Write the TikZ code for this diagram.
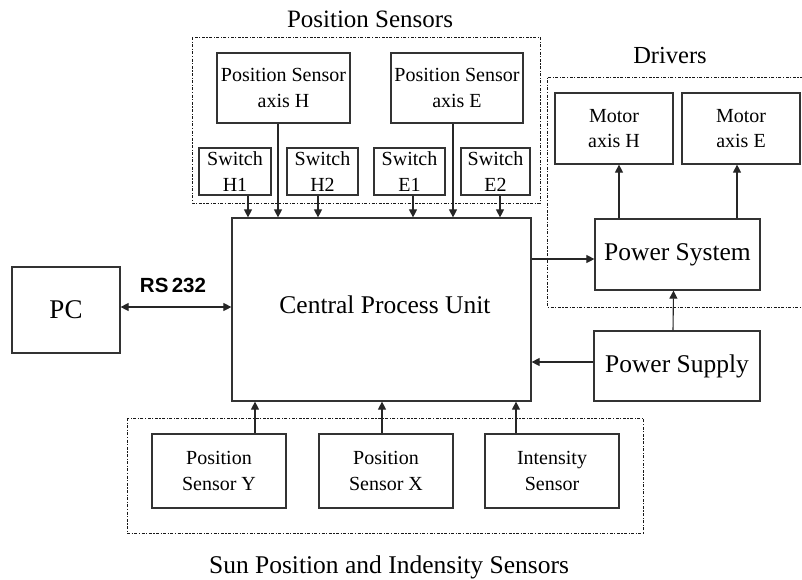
\documentclass[tikz,border=0pt]{standalone}
\usepackage{fontspec}
\setmainfont{Liberation Serif}
\newfontfamily\rsfont{Liberation Sans}
\usetikzlibrary{arrows.meta}
\begin{document}
\begin{tikzpicture}[x=1pt,y=-1pt,
  box/.style={draw=black!80, line width=1.2pt, inner sep=0pt, align=center,
    font=\fontsize{20}{25.5}\selectfont},
  bigbox/.style={box, font=\fontsize{25.5}{29}\selectfont},
  arr/.style={draw=black!85, line width=1.1pt, -{Triangle[length=8pt,width=8pt]}},
  dbl/.style={draw=black!85, line width=1.1pt, {Triangle[length=8pt,width=8pt]}-{Triangle[length=8pt,width=8pt]}},
  grp/.style={draw=black!90, line width=1pt, dash pattern=on 3pt off 1.5pt on 1.2pt off 1.5pt},
  ttl/.style={anchor=base, inner sep=0pt, font=\fontsize{25}{29}\selectfont}]
\useasboundingbox (0,0) rectangle (802,579);

% group frames
\draw[grp] (192,37) rectangle (540,203);
\draw[grp] (127,418) rectangle (643,533);
\draw[grp] (803,77) -| (547,307) -- (803,307);

% titles
\node[ttl] (tps) at (370,27) {Position Sensors};
\node[ttl, font=\fontsize{24.5}{29}\selectfont] (tdr) at (670,63) {Drivers};
\node[ttl, font=\fontsize{25.5}{29}\selectfont] (tsun) at (389,573) {Sun Position and Indensity Sensors};

% nodes
\node[box, minimum width=133, minimum height=70] (psh) at (283.5,88) {Position Sensor\\axis H};
\node[box, minimum width=132, minimum height=70] (pse) at (457,88) {Position Sensor\\axis E};
\node[box, minimum width=72, minimum height=47] (h1) at (235,171.5) {Switch\\H1};
\node[box, minimum width=71, minimum height=47] (h2) at (322.5,171.5) {Switch\\H2};
\node[box, minimum width=71, minimum height=47] (e1) at (409.5,171.5) {Switch\\E1};
\node[box, minimum width=69, minimum height=47] (e2) at (495.5,171.5) {Switch\\E2};

\node[box, minimum width=299, minimum height=183] (cpu) at (381.5,309.5) {};
\node[inner sep=0pt, font=\fontsize{25.5}{29}\selectfont] (cput) at (385,305) {Central Process Unit};

\node[bigbox, minimum width=108, minimum height=86, font=\fontsize{27}{30}\selectfont] (pc) at (66,310) {PC};

\node[box, minimum width=118, minimum height=71] (mh) at (614,128.5) {Motor\\axis H};
\node[box, minimum width=118, minimum height=71] (me) at (741,128.5) {Motor\\axis E};
\node[bigbox, minimum width=165, minimum height=71] (ps) at (677.5,254.5) {Power System};
\node[bigbox, minimum width=166, minimum height=70] (psu) at (677,366) {Power Supply};

\node[box, minimum width=134, minimum height=74] (sy) at (219,471) {Position\\Sensor Y};
\node[box, minimum width=134, minimum height=74] (sx) at (386,471) {Position\\Sensor X};
\node[box, minimum width=134, minimum height=74] (si) at (552,471) {Intensity\\Sensor};

% connectors: position sensors to CPU
\draw[arr] ([xshift=13pt]h1.south) -- ([xshift=13pt]h1.south |- cpu.north);
\draw[arr] ([xshift=-5.5pt]psh.south) -- ([xshift=-5.5pt]psh.south |- cpu.north);
\draw[arr] ([xshift=-4.5pt]h2.south) -- ([xshift=-4.5pt]h2.south |- cpu.north);
\draw[arr] ([xshift=3.5pt]e1.south) -- ([xshift=3.5pt]e1.south |- cpu.north);
\draw[arr] ([xshift=-4pt]pse.south) -- ([xshift=-4pt]pse.south |- cpu.north);
\draw[arr] ([xshift=4.5pt]e2.south) -- ([xshift=4.5pt]e2.south |- cpu.north);

% PC link
\draw[dbl] ([yshift=3pt]pc.east) -- ([yshift=3pt]pc.east -| cpu.west);
\node[anchor=base, inner sep=0pt, font=\rsfont\bfseries\fontsize{20.5}{22}\selectfont] (rs) at (173,292) {RS\,232};

% drivers
\draw[arr] ([yshift=-4.5pt]cpu.east |- ps.west) -- ([yshift=-4.5pt]ps.west);
\draw[arr] ([xshift=5pt]mh.south |- ps.north) -- ([xshift=5pt]mh.south);
\draw[arr] ([xshift=-4pt]me.south |- ps.north) -- ([xshift=-4pt]me.south);
\draw[arr] ([xshift=-4pt]psu.north) -- ([xshift=-4pt]ps.south);
\draw[arr] ([yshift=4pt]psu.west) -- ([yshift=4pt]psu.west -| cpu.east);

% sun sensors
\draw[arr] ([xshift=36pt]sy.north) -- ([xshift=36pt]sy.north |- cpu.south);
\draw[arr] ([xshift=-4pt]sx.north) -- ([xshift=-4pt]sx.north |- cpu.south);
\draw[arr] ([xshift=-36pt]si.north) -- ([xshift=-36pt]si.north |- cpu.south);
\end{tikzpicture}
\end{document}
